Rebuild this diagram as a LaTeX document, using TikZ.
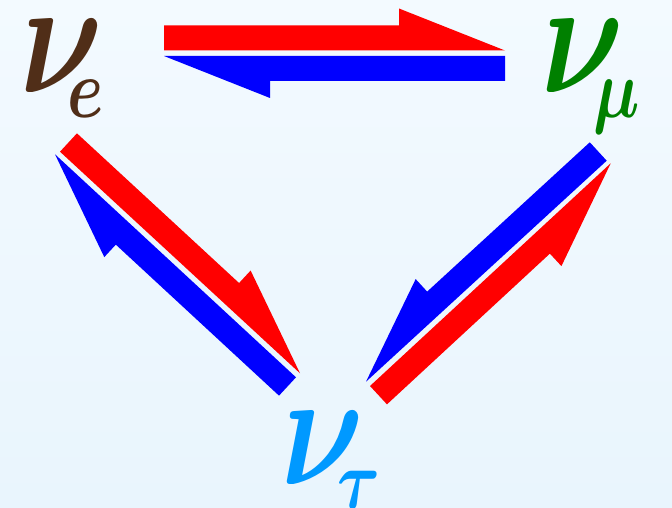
\RequirePackage{fix-cm}
\documentclass[tikz,border=0pt]{standalone}
\usepackage{amsmath}
\usetikzlibrary{calc}
\DeclareMathSizes{164}{164}{84}{60}
\definecolor{nuebrown}{RGB}{80,46,24}
\definecolor{numugreen}{RGB}{0,128,0}
\definecolor{nutaublue}{RGB}{0,153,255}
\definecolor{bgtop}{RGB}{243,250,255}
\definecolor{bgbot}{RGB}{233,245,253}
% half arrow: colour, tail, tip, side (90 or -90)
\newcommand{\halfarrow}[4]{%
  \coordinate (hb) at ($(#3)!106pt!(#2)$);
  \fill[#1] (#2) -- (#3) -- ($(hb)!42pt!#4:(#3)$) -- ($(hb)!25pt!#4:(#3)$)
    -- ($(#2)!25pt!#4:(#3)$) -- cycle;}

\begin{document}
\begin{tikzpicture}[x=1pt,y=-1pt,
  nu/.style={inner sep=0pt,anchor=base west,xscale=0.78,
    font=\fontsize{164}{164}\selectfont\boldmath}]
\shade[top color=bgtop,bottom color=bgbot] (0,0) rectangle (672,508);
\useasboundingbox (0,0) rectangle (672,508);
\node[nu,text=nuebrown] (ve) at (20,93) {$\nu_{\kern-34pt e}$};
\node[nu,text=numugreen] (vm) at (541,93) {$\nu_{\kern-28pt \mu}$};
\node[nu,text=nutaublue] (vt) at (281,484) {$\nu_{\kern-22pt \tau}$};
% arrow ends
\coordinate (em1) at (164,50.5);  \coordinate (em2) at (505,50.5);
\coordinate (me1) at (505,56);    \coordinate (me2) at (164,56);
\coordinate (et1) at (60,151.7);  \coordinate (et2) at (300,373.3);
\coordinate (te1) at (296,377.3); \coordinate (te2) at (55,154.3);
\coordinate (tm1) at (370,386);   \coordinate (tm2) at (610.7,163.3);
\coordinate (mt1) at (606.7,160.7); \coordinate (mt2) at (366,381.7);
\foreach \c/\a/\b/\s in {red/em1/em2/90,blue/me1/me2/90,red/et1/et2/90,
  blue/te1/te2/90,red/tm1/tm2/-90,blue/mt1/mt2/-90}
  {\halfarrow{\c}{\a}{\b}{\s}}
\end{tikzpicture}
\end{document}
